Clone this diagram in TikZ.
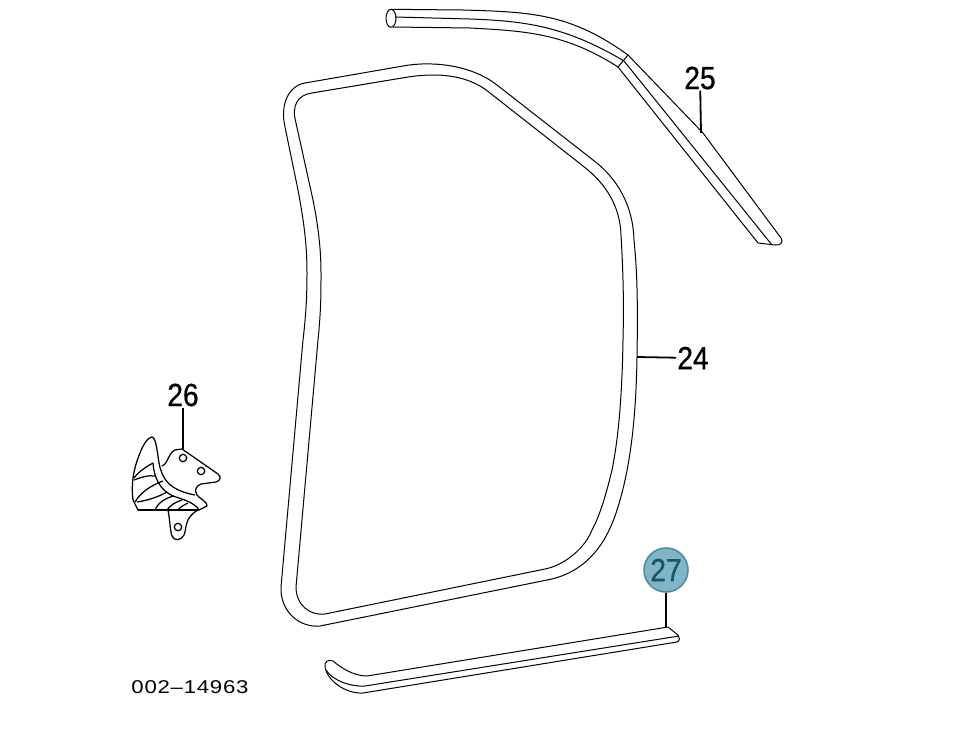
\documentclass[tikz,border=0pt]{standalone}
\usepackage{fontspec}
\setmainfont[FakeStretch=0.88,FakeBold=0.7]{Liberation Sans}
\newfontfamily\idfont[FakeStretch=1.2,LetterSpace=4]{Liberation Sans}
\definecolor{calloutfill}{HTML}{7FB5C6}
\definecolor{calloutdraw}{HTML}{4C8DA3}
\definecolor{callouttext}{HTML}{1C5568}
\def\drawseal{\draw[color=black, line width=1pt, line join=round]}
\def\drawclip{\draw[color=black, line width=1.25pt, line join=round]}
\def\drawleader{\draw[color=black, line width=1.8pt]}
\def\partno{\node[font=\fontsize{32}{32}\selectfont, inner sep=1pt]}
\begin{document}
\begin{tikzpicture}[x=1pt,y=-1pt,auto]
\useasboundingbox (0,0) rectangle (957,734);
% door seal
\drawseal (305,83) -- (403,66) .. controls (430,61) and (470,64) .. (497,85) -- (593,160) .. controls (617,178) and (633,205) .. (634,240) .. controls (637,270) and (638,300) .. (637,357) .. controls (636,420) and (630,470) .. (617,510) .. controls (606,545) and (585,573) .. (547,580) -- (320,626) .. controls (300,628) and (280,612) .. (281,587) -- (303,340) .. controls (306,315) and (307,295) .. (307,273) .. controls (307,245) and (304,222) .. (298,190) -- (285,127) .. controls (280,105) and (288,86) .. (305,83) -- cycle;
\drawseal (312,93) -- (402,78) .. controls (430,73) and (465,72) .. (490,93) -- (583,166) .. controls (605,183) and (620,205) .. (621,235) .. controls (623,270) and (624,300) .. (623,340) .. controls (622,400) and (618,440) .. (612,470) .. controls (606,495) and (600,515) .. (592,530) .. controls (585,548) and (565,565) .. (545,569) -- (325,614) .. controls (310,616) and (296,605) .. (296,587) -- (318,340) .. controls (321,310) and (321,295) .. (321,273) .. controls (321,245) and (317,220) .. (313,200) -- (296,123) .. controls (291,105) and (298,95) .. (312,93) -- cycle;
% upper moulding
\drawseal (391,18.3) ellipse (5 and 9);
\drawseal (391,9.3) -- (463,10) .. controls (530,12) and (570,13) .. (628,55);
\drawseal (395,17) -- (470,19) .. controls (525,21) and (565,26) .. (624,61);
\drawseal (393,27) -- (470,28) .. controls (525,31) and (565,33) .. (618,67);
\drawseal (628,55) -- (618,67);
\drawseal (628,55) -- (703,133) -- (781,238) .. controls (784,242) and (780,246) .. (775,245) -- (758,243) -- (618,67);
\drawseal (624,61) -- (772,245);
% sill strip
\drawseal (668,627) -- (367,676) .. controls (353,676) and (340,667) .. (333,661) .. controls (328,659) and (324,662) .. (325,667) .. controls (327,680) and (345,694) .. (363,693) -- (677,642) .. controls (680,641) and (680,637) .. (678,635) -- (668,627);
\drawseal (326,670) .. controls (332,680) and (350,687) .. (365,686) -- (679,636);
% clip
\drawclip (133,500) .. controls (131,485) and (133,470) .. (140,453) .. controls (143,445) and (148,437) .. (152,437) .. controls (156,438) and (157,450) .. (159,463);
\drawclip (162,466) .. controls (168,464) and (168,453) .. (175,450) -- (182,449) -- (218,474) .. controls (222,477) and (220,481) .. (216,482) -- (201,484) .. controls (196,486) and (194,490) .. (197,495) .. controls (200,499) and (208,502) .. (207,506) -- (199,510);
\drawclip (133,500) -- (138,510);
\draw[color=black, line width=1.6pt] (138,510) -- (199,510);
\drawclip (159,463) .. controls (162,478) and (168,490) .. (195,495);
\drawclip (153,463) .. controls (154,478) and (160,490) .. (173,496) .. controls (185,500) and (195,503) .. (199,510);
\drawclip (134,478) .. controls (140,470) and (148,466) .. (153,463);
\drawclip (134,480) .. controls (142,477) and (148,475) .. (155,476);
\drawclip (135,502) .. controls (142,490) and (155,484) .. (163,481);
\drawclip (137,502) .. controls (150,500) and (160,496) .. (167,492);
\drawclip (155,510) .. controls (158,503) and (165,498) .. (174,496);
\drawclip (167,510) .. controls (170,505) and (176,502) .. (182,500);
\drawclip (178,510) .. controls (180,507) and (184,505) .. (188,503);
\drawclip (168,510) .. controls (170,520) and (170,530) .. (172,536) .. controls (174,541) and (181,541) .. (184,535) .. controls (187,528) and (184,518) .. (198,510);
\drawclip (183,458) circle (3.7);
\drawclip (201,471) circle (3.7);
\drawclip (178,527) circle (3.7);
% callouts
\partno (no25) at (700,78) {25};
\coordinate (end25) at (701,133);
\drawleader (no25) -- (end25);
\partno (no24) at (693,358) {24};
\coordinate (end24) at (637,357);
\drawleader (no24) -- (end24);
\partno (no26) at (183,395) {26};
\coordinate (end26) at (183,449);
\drawleader (no26) -- (end26);
\node[circle, minimum size=44pt, inner sep=0pt, fill=calloutfill, draw=calloutdraw, line width=1.6pt, text=callouttext, font=\fontsize{32}{32}\selectfont] (no27) at (666,570) {27};
\coordinate (end27) at (666,628);
\draw[color=black, line width=2.4pt] (no27) -- (end27);
\node[font=\idfont\fontsize{18.5}{18.5}\selectfont, inner sep=0pt] (drawingno) at (190,687) {002\textendash14963};
\end{tikzpicture}
\end{document}
